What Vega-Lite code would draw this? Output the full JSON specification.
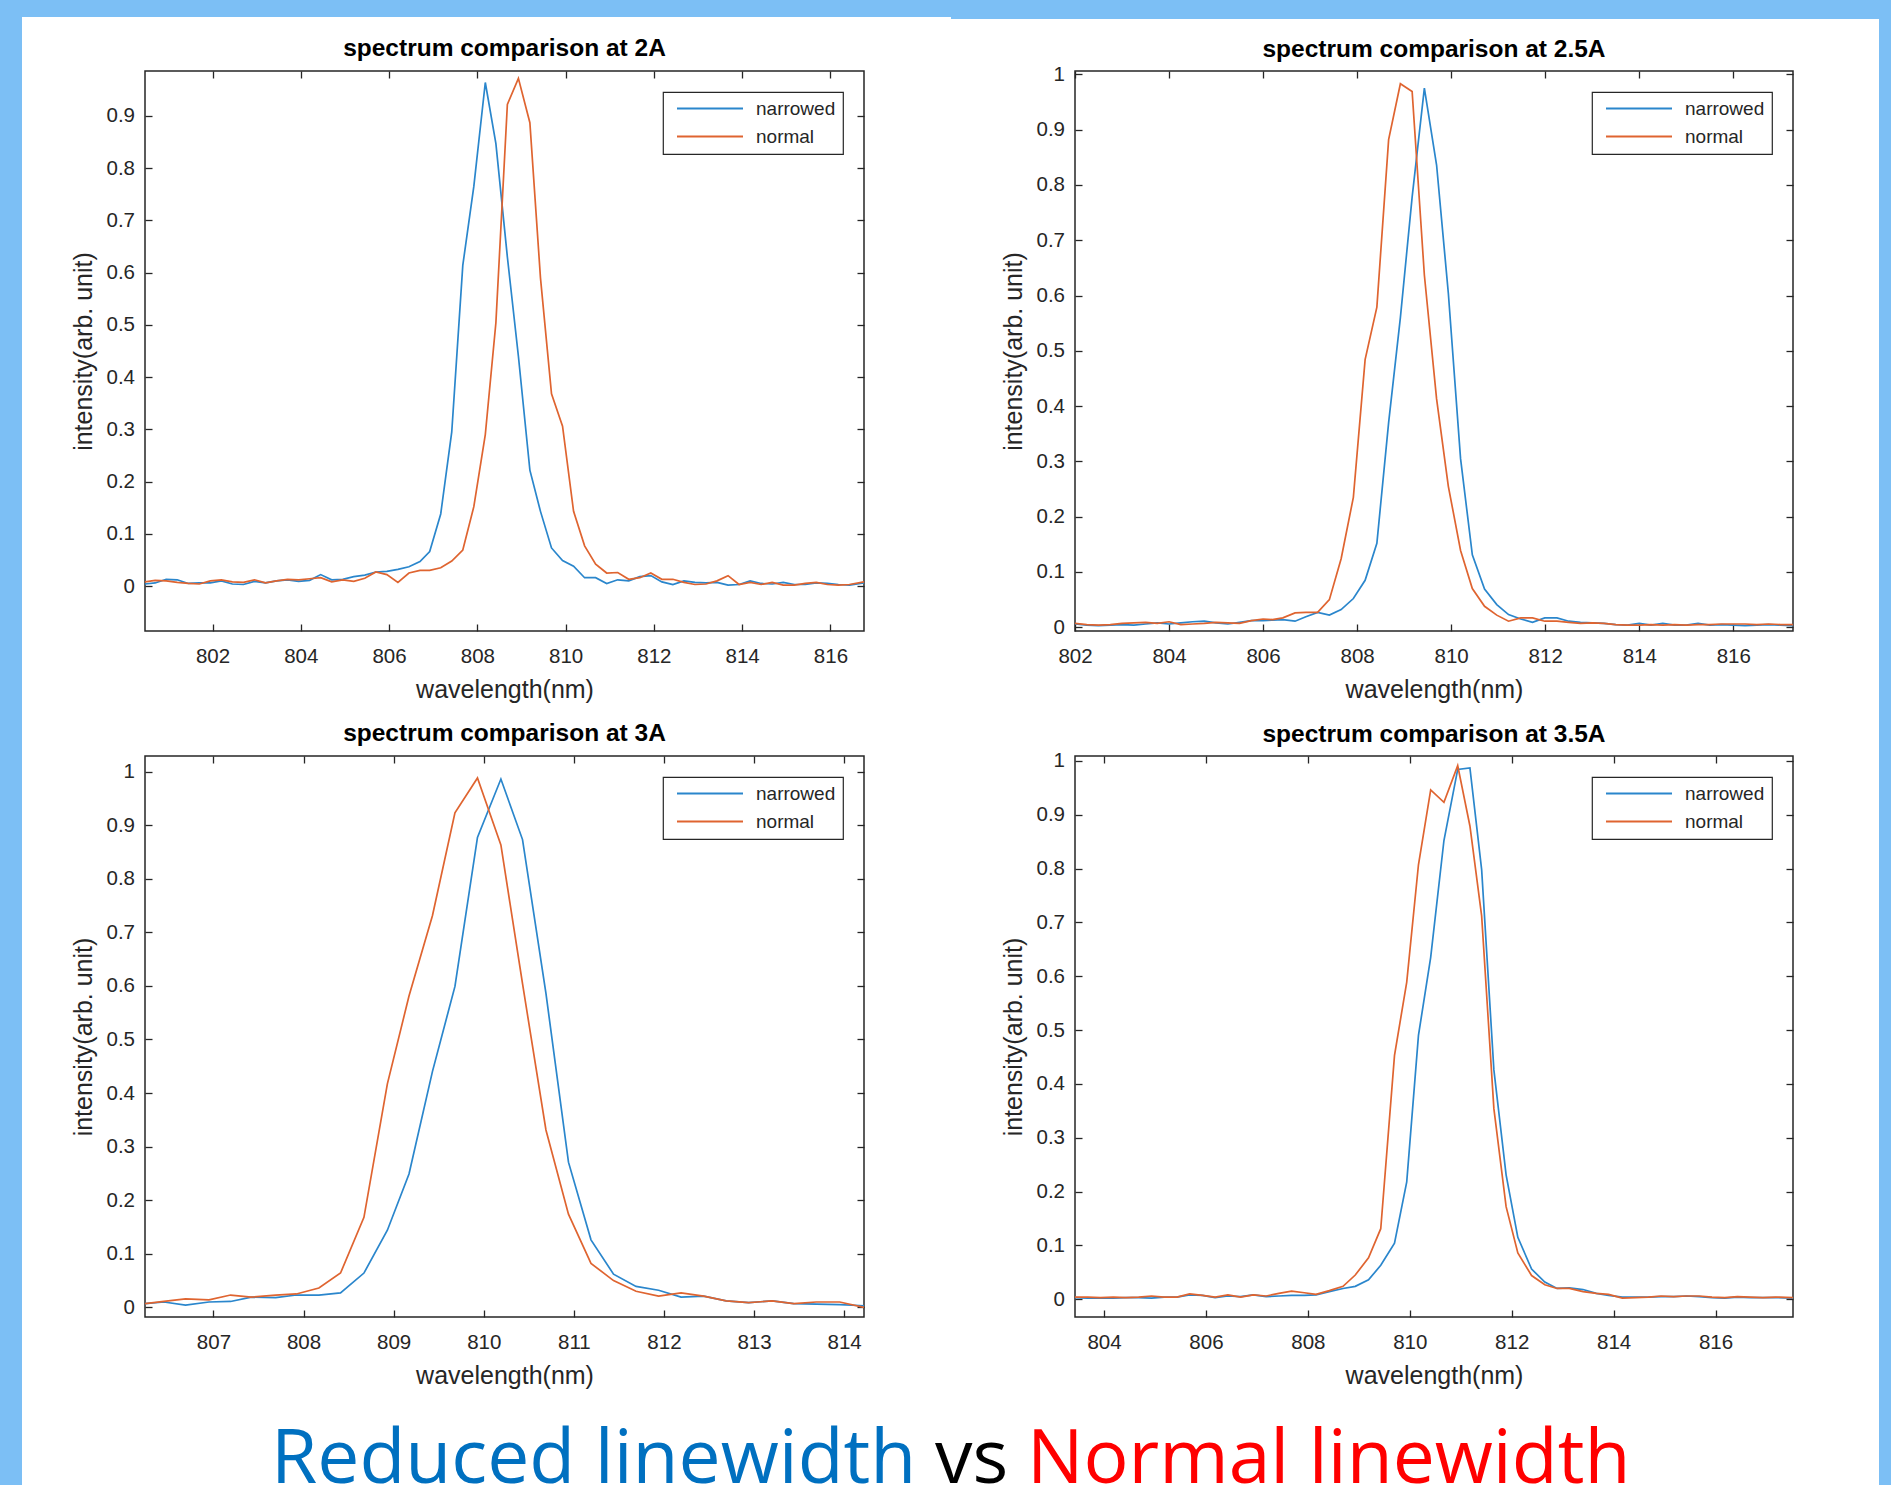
{
"$schema":"https://vega.github.io/schema/vega-lite/v6.json",
"padding":0,
"background":"white",
"spacing":0,
"datasets":{
"p1":[
{"wl":800.47,"narrowed":0.004,"normal":0.008},{"wl":800.7,"narrowed":0.006,"normal":0.011},{"wl":800.95,"narrowed":0.013,"normal":0.010},{"wl":801.2,"narrowed":0.012,"normal":0.007},{"wl":801.45,"narrowed":0.005,"normal":0.005},{"wl":801.7,"narrowed":0.006,"normal":0.004},{"wl":801.95,"narrowed":0.006,"normal":0.010},{"wl":802.2,"narrowed":0.010,"normal":0.012},{"wl":802.45,"narrowed":0.004,"normal":0.008},{"wl":802.7,"narrowed":0.003,"normal":0.007},{"wl":802.95,"narrowed":0.009,"normal":0.012},{"wl":803.2,"narrowed":0.006,"normal":0.006},{"wl":803.45,"narrowed":0.010,"normal":0.010},{"wl":803.7,"narrowed":0.012,"normal":0.013},{"wl":803.95,"narrowed":0.009,"normal":0.012},{"wl":804.2,"narrowed":0.011,"normal":0.014},{"wl":804.45,"narrowed":0.022,"normal":0.016},{"wl":804.7,"narrowed":0.012,"normal":0.008},{"wl":804.95,"narrowed":0.013,"normal":0.012},{"wl":805.2,"narrowed":0.018,"normal":0.009},{"wl":805.45,"narrowed":0.021,"normal":0.015},{"wl":805.7,"narrowed":0.027,"normal":0.027},{"wl":805.95,"narrowed":0.028,"normal":0.022},{"wl":806.2,"narrowed":0.032,"normal":0.007},{"wl":806.45,"narrowed":0.037,"normal":0.025},{"wl":806.7,"narrowed":0.047,"normal":0.030},{"wl":806.92,"narrowed":0.066,"normal":0.030},{"wl":807.17,"narrowed":0.138,"normal":0.035},{"wl":807.42,"narrowed":0.295,"normal":0.048},{"wl":807.67,"narrowed":0.614,"normal":0.069},{"wl":807.92,"narrowed":0.765,"normal":0.152},{"wl":808.18,"narrowed":0.964,"normal":0.29},{"wl":808.42,"narrowed":0.847,"normal":0.504},{"wl":808.68,"narrowed":0.63,"normal":0.922},{"wl":808.93,"narrowed":0.44,"normal":0.972},{"wl":809.19,"narrowed":0.222,"normal":0.887},{"wl":809.43,"narrowed":0.143,"normal":0.59},{"wl":809.68,"narrowed":0.073,"normal":0.368},{"wl":809.93,"narrowed":0.049,"normal":0.306},{"wl":810.18,"narrowed":0.038,"normal":0.143},{"wl":810.43,"narrowed":0.016,"normal":0.077},{"wl":810.68,"narrowed":0.016,"normal":0.042},{"wl":810.93,"narrowed":0.005,"normal":0.025},{"wl":811.18,"narrowed":0.012,"normal":0.026},{"wl":811.43,"narrowed":0.010,"normal":0.013},{"wl":811.68,"narrowed":0.018,"normal":0.016},{"wl":811.93,"narrowed":0.020,"normal":0.025},{"wl":812.18,"narrowed":0.008,"normal":0.013},{"wl":812.43,"narrowed":0.003,"normal":0.013},{"wl":812.68,"narrowed":0.010,"normal":0.007},{"wl":812.93,"narrowed":0.007,"normal":0.003},{"wl":813.18,"narrowed":0.006,"normal":0.004},{"wl":813.43,"narrowed":0.007,"normal":0.010},{"wl":813.68,"narrowed":0.002,"normal":0.020},{"wl":813.93,"narrowed":0.003,"normal":0.003},{"wl":814.18,"narrowed":0.010,"normal":0.007},{"wl":814.43,"narrowed":0.005,"normal":0.003},{"wl":814.68,"narrowed":0.004,"normal":0.007},{"wl":814.93,"narrowed":0.007,"normal":0.002},{"wl":815.18,"narrowed":0.003,"normal":0.002},{"wl":815.43,"narrowed":0.003,"normal":0.005},{"wl":815.68,"narrowed":0.006,"normal":0.007},{"wl":815.93,"narrowed":0.005,"normal":0.003},{"wl":816.18,"narrowed":0.003,"normal":0.002},{"wl":816.43,"narrowed":0.002,"normal":0.003},{"wl":816.76,"narrowed":0.006,"normal":0.008}
],
"p2":[
{"wl":802.0,"narrowed":0.006,"normal":0.007},{"wl":802.25,"narrowed":0.004,"normal":0.005},{"wl":802.5,"narrowed":0.003,"normal":0.004},{"wl":802.75,"narrowed":0.004,"normal":0.005},{"wl":803.0,"narrowed":0.005,"normal":0.007},{"wl":803.25,"narrowed":0.004,"normal":0.008},{"wl":803.5,"narrowed":0.006,"normal":0.009},{"wl":803.75,"narrowed":0.008,"normal":0.007},{"wl":804.0,"narrowed":0.006,"normal":0.010},{"wl":804.25,"narrowed":0.008,"normal":0.005},{"wl":804.5,"narrowed":0.010,"normal":0.006},{"wl":804.75,"narrowed":0.011,"normal":0.007},{"wl":805.0,"narrowed":0.008,"normal":0.009},{"wl":805.25,"narrowed":0.006,"normal":0.008},{"wl":805.5,"narrowed":0.009,"normal":0.007},{"wl":805.75,"narrowed":0.012,"normal":0.012},{"wl":806.0,"narrowed":0.012,"normal":0.015},{"wl":806.2,"narrowed":0.013,"normal":0.014},{"wl":806.42,"narrowed":0.014,"normal":0.017},{"wl":806.68,"narrowed":0.011,"normal":0.026},{"wl":806.91,"narrowed":0.019,"normal":0.027},{"wl":807.16,"narrowed":0.027,"normal":0.027},{"wl":807.41,"narrowed":0.022,"normal":0.050},{"wl":807.66,"narrowed":0.032,"normal":0.124},{"wl":807.92,"narrowed":0.052,"normal":0.235},{"wl":808.17,"narrowed":0.085,"normal":0.484},{"wl":808.42,"narrowed":0.152,"normal":0.579},{"wl":808.67,"narrowed":0.37,"normal":0.882},{"wl":808.92,"narrowed":0.56,"normal":0.983},{"wl":809.17,"narrowed":0.778,"normal":0.969},{"wl":809.43,"narrowed":0.975,"normal":0.637},{"wl":809.69,"narrowed":0.836,"normal":0.413},{"wl":809.94,"narrowed":0.604,"normal":0.255},{"wl":810.2,"narrowed":0.305,"normal":0.139},{"wl":810.45,"narrowed":0.131,"normal":0.070},{"wl":810.71,"narrowed":0.069,"normal":0.038},{"wl":810.97,"narrowed":0.041,"normal":0.022},{"wl":811.22,"narrowed":0.023,"normal":0.011},{"wl":811.48,"narrowed":0.015,"normal":0.017},{"wl":811.73,"narrowed":0.009,"normal":0.017},{"wl":811.99,"narrowed":0.017,"normal":0.011},{"wl":812.25,"narrowed":0.017,"normal":0.011},{"wl":812.5,"narrowed":0.011,"normal":0.009},{"wl":812.75,"narrowed":0.009,"normal":0.007},{"wl":813.0,"narrowed":0.008,"normal":0.008},{"wl":813.25,"narrowed":0.007,"normal":0.007},{"wl":813.5,"narrowed":0.005,"normal":0.005},{"wl":813.75,"narrowed":0.004,"normal":0.004},{"wl":814.0,"narrowed":0.007,"normal":0.004},{"wl":814.25,"narrowed":0.004,"normal":0.005},{"wl":814.5,"narrowed":0.007,"normal":0.004},{"wl":814.75,"narrowed":0.004,"normal":0.005},{"wl":815.0,"narrowed":0.004,"normal":0.004},{"wl":815.25,"narrowed":0.007,"normal":0.005},{"wl":815.5,"narrowed":0.004,"normal":0.005},{"wl":815.75,"narrowed":0.005,"normal":0.006},{"wl":816.0,"narrowed":0.004,"normal":0.006},{"wl":816.25,"narrowed":0.003,"normal":0.006},{"wl":816.5,"narrowed":0.004,"normal":0.005},{"wl":816.75,"narrowed":0.005,"normal":0.006},{"wl":817.0,"narrowed":0.004,"normal":0.005},{"wl":817.27,"narrowed":0.003,"normal":0.005}
],
"p3":[
{"wl":806.24,"narrowed":0.007,"normal":0.007},{"wl":806.45,"narrowed":0.010,"normal":0.011},{"wl":806.69,"narrowed":0.004,"normal":0.016},{"wl":806.95,"narrowed":0.010,"normal":0.014},{"wl":807.19,"narrowed":0.011,"normal":0.023},{"wl":807.42,"narrowed":0.019,"normal":0.019},{"wl":807.69,"narrowed":0.018,"normal":0.023},{"wl":807.92,"narrowed":0.023,"normal":0.025},{"wl":808.17,"narrowed":0.023,"normal":0.036},{"wl":808.41,"narrowed":0.027,"normal":0.064},{"wl":808.67,"narrowed":0.064,"normal":0.168},{"wl":808.93,"narrowed":0.144,"normal":0.417},{"wl":809.17,"narrowed":0.249,"normal":0.581},{"wl":809.43,"narrowed":0.440,"normal":0.731},{"wl":809.68,"narrowed":0.599,"normal":0.923},{"wl":809.93,"narrowed":0.877,"normal":0.988},{"wl":810.19,"narrowed":0.986,"normal":0.863},{"wl":810.43,"narrowed":0.873,"normal":0.604},{"wl":810.69,"narrowed":0.586,"normal":0.331},{"wl":810.94,"narrowed":0.271,"normal":0.174},{"wl":811.19,"narrowed":0.126,"normal":0.082},{"wl":811.44,"narrowed":0.062,"normal":0.050},{"wl":811.69,"narrowed":0.039,"normal":0.030},{"wl":811.94,"narrowed":0.032,"normal":0.021},{"wl":812.19,"narrowed":0.019,"normal":0.027},{"wl":812.44,"narrowed":0.021,"normal":0.021},{"wl":812.69,"narrowed":0.012,"normal":0.012},{"wl":812.94,"narrowed":0.009,"normal":0.009},{"wl":813.2,"narrowed":0.012,"normal":0.012},{"wl":813.44,"narrowed":0.007,"normal":0.007},{"wl":813.69,"narrowed":0.006,"normal":0.010},{"wl":813.95,"narrowed":0.005,"normal":0.010},{"wl":814.22,"narrowed":0.003,"normal":0.000}
],
"p4":[
{"wl":803.43,"narrowed":0.003,"normal":0.004},{"wl":803.68,"narrowed":0.002,"normal":0.004},{"wl":803.93,"narrowed":0.002,"normal":0.003},{"wl":804.18,"narrowed":0.002,"normal":0.004},{"wl":804.43,"narrowed":0.003,"normal":0.003},{"wl":804.68,"narrowed":0.003,"normal":0.004},{"wl":804.93,"narrowed":0.002,"normal":0.006},{"wl":805.18,"narrowed":0.004,"normal":0.004},{"wl":805.43,"narrowed":0.004,"normal":0.004},{"wl":805.68,"narrowed":0.008,"normal":0.010},{"wl":805.93,"narrowed":0.007,"normal":0.007},{"wl":806.18,"narrowed":0.003,"normal":0.004},{"wl":806.43,"narrowed":0.006,"normal":0.008},{"wl":806.68,"narrowed":0.005,"normal":0.004},{"wl":806.93,"narrowed":0.008,"normal":0.008},{"wl":807.18,"narrowed":0.005,"normal":0.006},{"wl":807.43,"narrowed":0.006,"normal":0.011},{"wl":807.68,"narrowed":0.007,"normal":0.015},{"wl":807.93,"narrowed":0.007,"normal":0.012},{"wl":808.16,"narrowed":0.008,"normal":0.009},{"wl":808.42,"narrowed":0.014,"normal":0.016},{"wl":808.69,"narrowed":0.020,"normal":0.024},{"wl":808.93,"narrowed":0.024,"normal":0.045},{"wl":809.19,"narrowed":0.036,"normal":0.077},{"wl":809.43,"narrowed":0.063,"normal":0.131},{"wl":809.7,"narrowed":0.104,"normal":0.453},{"wl":809.94,"narrowed":0.218,"normal":0.589},{"wl":810.17,"narrowed":0.490,"normal":0.807},{"wl":810.41,"narrowed":0.635,"normal":0.946},{"wl":810.67,"narrowed":0.852,"normal":0.923},{"wl":810.94,"narrowed":0.984,"normal":0.991},{"wl":811.18,"narrowed":0.987,"normal":0.879},{"wl":811.41,"narrowed":0.798,"normal":0.712},{"wl":811.65,"narrowed":0.426,"normal":0.354},{"wl":811.89,"narrowed":0.231,"normal":0.172},{"wl":812.12,"narrowed":0.115,"normal":0.086},{"wl":812.39,"narrowed":0.056,"normal":0.044},{"wl":812.65,"narrowed":0.032,"normal":0.027},{"wl":812.89,"narrowed":0.020,"normal":0.020},{"wl":813.13,"narrowed":0.021,"normal":0.020},{"wl":813.4,"narrowed":0.018,"normal":0.014},{"wl":813.66,"narrowed":0.011,"normal":0.011},{"wl":813.9,"narrowed":0.007,"normal":0.009},{"wl":814.17,"narrowed":0.004,"normal":0.002},{"wl":814.43,"narrowed":0.004,"normal":0.003},{"wl":814.68,"narrowed":0.004,"normal":0.004},{"wl":814.93,"narrowed":0.005,"normal":0.006},{"wl":815.18,"narrowed":0.005,"normal":0.005},{"wl":815.43,"narrowed":0.006,"normal":0.006},{"wl":815.68,"narrowed":0.005,"normal":0.006},{"wl":815.93,"narrowed":0.003,"normal":0.004},{"wl":816.18,"narrowed":0.002,"normal":0.003},{"wl":816.43,"narrowed":0.004,"normal":0.005},{"wl":816.68,"narrowed":0.003,"normal":0.004},{"wl":816.93,"narrowed":0.003,"normal":0.003},{"wl":817.18,"narrowed":0.003,"normal":0.004},{"wl":817.52,"narrowed":0.002,"normal":0.003}
]
},
"resolve":{"scale":{"color":"independent"},"legend":{"color":"independent"}},
"hconcat":[
{"width":22,"height":1485,"view":{"fill":"#7cbff5","stroke":null},"data":{"values":[{}]},"mark":{"type":"text","text":""}},
{"resolve":{"scale":{"color":"independent"},"legend":{"color":"independent"}},
 "vconcat":[
 {"hconcat":[
  {"width":929,"height":17,"view":{"fill":"#7cbff5","stroke":null},"data":{"values":[{}]},"mark":{"type":"text","text":""}},
  {"width":928,"height":19,"view":{"fill":"#7cbff5","stroke":null},"data":{"values":[{}]},"mark":{"type":"text","text":""}}
 ],"spacing":0},
 {"width":1,"height":16,"data":{"values":[{}]},"mark":{"type":"text","text":""}},
 {"resolve":{"scale":{"color":"independent"},"legend":{"color":"independent"}},
  "hconcat":[
  {"width":48,"height":649,"data":{"values":[{}]},"mark":{"type":"text","text":""}},
  {"width":719,"height":560,"title":{"text":"spectrum comparison at 2A","offset":9},
   "data":{"name":"p1"},"transform":[{"fold":["narrowed","normal"],"as":["series","v"]}],
   "view":{"stroke":"#262626","strokeWidth":1.5},
   "resolve":{"axis":{"x":"independent","y":"independent"}},
   "layer":[
    {"mark":{"type":"line","strokeWidth":1.7,"clip":true},
     "encoding":{
      "x":{"field":"wl","type":"quantitative","scale":{"domain":[800.47,816.76],"nice":false,"zero":false},"axis":{"orient":"bottom","values":[802,804,806,808,810,812,814,816],"format":"d","title":"wavelength(nm)"}},
      "y":{"field":"v","type":"quantitative","scale":{"domain":[-0.086,0.986],"nice":false,"zero":false},"axis":{"orient":"left","values":[0,0.1,0.2,0.3,0.4,0.5,0.6,0.7,0.8,0.9],"format":"~g","title":"intensity(arb. unit)"}},
      "color":{"field":"series","type":"nominal","scale":{"domain":["narrowed","normal"],"range":["#2a86cc","#df6430"]},"legend":{"title":null}}
     }},
    {"mark":{"type":"point","opacity":0,"clip":true},
     "encoding":{
      "x":{"field":"wl","type":"quantitative","axis":{"orient":"top","values":[802,804,806,808,810,812,814,816],"labels":false,"title":null}},
      "y":{"field":"v","type":"quantitative","axis":{"orient":"right","values":[0,0.1,0.2,0.3,0.4,0.5,0.6,0.7,0.8,0.9],"labels":false,"title":null}}
     }}
   ]},
  {"width":134,"height":1,"data":{"values":[{}]},"mark":{"type":"text","text":""}},
  {"width":718,"height":560,"title":{"text":"spectrum comparison at 2.5A","offset":2.3},
   "data":{"name":"p2"},"transform":[{"fold":["narrowed","normal"],"as":["series","v"]}],
   "view":{"stroke":"#262626","strokeWidth":1.5},
   "resolve":{"axis":{"x":"independent","y":"independent"}},
   "layer":[
    {"mark":{"type":"line","strokeWidth":1.7,"clip":true},
     "encoding":{
      "x":{"field":"wl","type":"quantitative","scale":{"domain":[802,817.27],"nice":false,"zero":false},"axis":{"orient":"bottom","values":[802,804,806,808,810,812,814,816],"format":"d","title":"wavelength(nm)"}},
      "y":{"field":"v","type":"quantitative","scale":{"domain":[-0.0067,1.006],"nice":false,"zero":false},"axis":{"orient":"left","values":[0,0.1,0.2,0.3,0.4,0.5,0.6,0.7,0.8,0.9,1],"format":"~g","title":"intensity(arb. unit)"}},
      "color":{"field":"series","type":"nominal","scale":{"domain":["narrowed","normal"],"range":["#2a86cc","#df6430"]},"legend":{"title":null}}
     }},
    {"mark":{"type":"point","opacity":0,"clip":true},
     "encoding":{
      "x":{"field":"wl","type":"quantitative","axis":{"orient":"top","values":[802,804,806,808,810,812,814,816],"labels":false,"title":null}},
      "y":{"field":"v","type":"quantitative","axis":{"orient":"right","values":[0,0.1,0.2,0.3,0.4,0.5,0.6,0.7,0.8,0.9,1],"labels":false,"title":null}}
     }}
   ]}
 ],"spacing":0},
 {"resolve":{"scale":{"color":"independent"},"legend":{"color":"independent"}},
  "hconcat":[
  {"width":48,"height":666,"data":{"values":[{}]},"mark":{"type":"text","text":""}},
  {"width":719,"height":561,"title":{"text":"spectrum comparison at 3A","offset":9},
   "data":{"name":"p3"},"transform":[{"fold":["narrowed","normal"],"as":["series","v"]}],
   "view":{"stroke":"#262626","strokeWidth":1.5},
   "resolve":{"axis":{"x":"independent","y":"independent"}},
   "layer":[
    {"mark":{"type":"line","strokeWidth":1.7,"clip":true},
     "encoding":{
      "x":{"field":"wl","type":"quantitative","scale":{"domain":[806.24,814.22],"nice":false,"zero":false},"axis":{"orient":"bottom","values":[807,808,809,810,811,812,813,814],"format":"d","title":"wavelength(nm)"}},
      "y":{"field":"v","type":"quantitative","scale":{"domain":[-0.018,1.029],"nice":false,"zero":false},"axis":{"orient":"left","values":[0,0.1,0.2,0.3,0.4,0.5,0.6,0.7,0.8,0.9,1],"format":"~g","title":"intensity(arb. unit)"}},
      "color":{"field":"series","type":"nominal","scale":{"domain":["narrowed","normal"],"range":["#2a86cc","#df6430"]},"legend":{"title":null}}
     }},
    {"mark":{"type":"point","opacity":0,"clip":true},
     "encoding":{
      "x":{"field":"wl","type":"quantitative","axis":{"orient":"top","values":[807,808,809,810,811,812,813,814],"labels":false,"title":null}},
      "y":{"field":"v","type":"quantitative","axis":{"orient":"right","values":[0,0.1,0.2,0.3,0.4,0.5,0.6,0.7,0.8,0.9,1],"labels":false,"title":null}}
     }}
   ]},
  {"width":134,"height":1,"data":{"values":[{}]},"mark":{"type":"text","text":""}},
  {"width":718,"height":561,"title":{"text":"spectrum comparison at 3.5A","offset":3.8},
   "data":{"name":"p4"},"transform":[{"fold":["narrowed","normal"],"as":["series","v"]}],
   "view":{"stroke":"#262626","strokeWidth":1.5},
   "resolve":{"axis":{"x":"independent","y":"independent"}},
   "layer":[
    {"mark":{"type":"line","strokeWidth":1.7,"clip":true},
     "encoding":{
      "x":{"field":"wl","type":"quantitative","scale":{"domain":[803.43,817.52],"nice":false,"zero":false},"axis":{"orient":"bottom","values":[804,806,808,810,812,814,816],"format":"d","title":"wavelength(nm)"}},
      "y":{"field":"v","type":"quantitative","scale":{"domain":[-0.033,1.009],"nice":false,"zero":false},"axis":{"orient":"left","values":[0,0.1,0.2,0.3,0.4,0.5,0.6,0.7,0.8,0.9,1],"format":"~g","title":"intensity(arb. unit)"}},
      "color":{"field":"series","type":"nominal","scale":{"domain":["narrowed","normal"],"range":["#2a86cc","#df6430"]},"legend":{"title":null}}
     }},
    {"mark":{"type":"point","opacity":0,"clip":true},
     "encoding":{
      "x":{"field":"wl","type":"quantitative","axis":{"orient":"top","values":[804,806,808,810,812,814,816],"labels":false,"title":null}},
      "y":{"field":"v","type":"quantitative","axis":{"orient":"right","values":[0,0.1,0.2,0.3,0.4,0.5,0.6,0.7,0.8,0.9,1],"labels":false,"title":null}}
     }}
   ]}
 ],"spacing":0},
 {"hconcat":[
  {"width":231,"height":1,"data":{"values":[{}]},"mark":{"type":"text","text":""}},
  {"width":1,"height":1,"title":{"text":"Reduced linewidth","color":"#0070C0","font":"Open Sans","fontSize":75,"fontWeight":"normal","anchor":"start","offset":0,"baseline":"alphabetic"},"data":{"values":[{}]},"mark":{"type":"text","text":""}},
  {"width":1,"height":1,"title":{"text":"vs","color":"#000000","font":"Open Sans","fontSize":75,"fontWeight":"normal","anchor":"start","offset":0,"baseline":"alphabetic"},"data":{"values":[{}]},"mark":{"type":"text","text":""}},
  {"width":1,"height":1,"title":{"text":"Normal linewidth","color":"#FF0000","font":"Open Sans","fontSize":75,"fontWeight":"normal","anchor":"start","offset":0,"baseline":"alphabetic"},"data":{"values":[{}]},"mark":{"type":"text","text":""}}
 ],"spacing":18}
],"spacing":0},
{"width":12,"height":1485,"view":{"fill":"#7cbff5","stroke":null},"data":{"values":[{}]},"mark":{"type":"text","text":""}}
],
"config":{
 "font":"Liberation Sans",
 "view":{"stroke":null},
 "concat":{"spacing":0},
 "axis":{"domain":false,"grid":false,"ticks":true,"tickSize":-7,"tickColor":"#262626","tickWidth":1.3,"labelFont":"Liberation Sans","labelFontSize":20.5,"labelColor":"#262626","titleFont":"Liberation Sans","titleFontSize":25,"titleFontWeight":"normal","titleColor":"#262626","labelFlush":false,"labelOverlap":false},
 "axisX":{"labelPadding":22,"titlePadding":11},
 "axisY":{"labelPadding":17.5,"titlePadding":10},
 "title":{"font":"Liberation Sans","fontSize":24.5,"fontWeight":"bold","color":"#000000","anchor":"middle"},
 "legend":{"orient":"top-right","offset":21,"padding":7,"strokeColor":"#262626","strokeWidth":1.2,"fillColor":"white","symbolType":"stroke","symbolStrokeWidth":2,"symbolSize":4356,"symbolOffset":6,"clipHeight":19,"labelFont":"Liberation Sans","labelFontSize":19,"labelColor":"#262626","labelOffset":12,"rowPadding":8}
}
}
